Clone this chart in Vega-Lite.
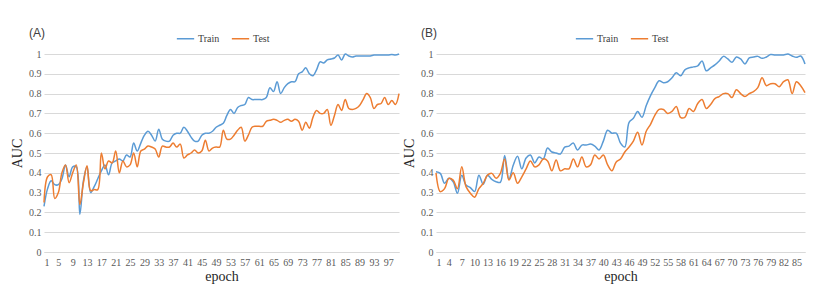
{
  "$schema": "https://vega.github.io/schema/vega-lite/v6.json",
  "padding": {"left": 10, "top": 27, "right": 5, "bottom": 5},
  "background": "white",
  "datasets": {
    "A": [
      {"epoch":1,"Train":0.23,"Test":0.25},{"epoch":2,"Train":0.32,"Test":0.38},{"epoch":3,"Train":0.36,"Test":0.39},{"epoch":4,"Train":0.34,"Test":0.27},{"epoch":5,"Train":0.34,"Test":0.30},
      {"epoch":6,"Train":0.37,"Test":0.40},{"epoch":7,"Train":0.44,"Test":0.44},{"epoch":8,"Train":0.38,"Test":0.35},{"epoch":9,"Train":0.43,"Test":0.40},{"epoch":10,"Train":0.43,"Test":0.44},
      {"epoch":11,"Train":0.19,"Test":0.24},{"epoch":12,"Train":0.36,"Test":0.35},{"epoch":13,"Train":0.43,"Test":0.435},{"epoch":14,"Train":0.30,"Test":0.31},{"epoch":15,"Train":0.33,"Test":0.315},
      {"epoch":16,"Train":0.37,"Test":0.315},{"epoch":17,"Train":0.41,"Test":0.50},{"epoch":18,"Train":0.44,"Test":0.42},{"epoch":19,"Train":0.39,"Test":0.46},{"epoch":20,"Train":0.45,"Test":0.45},
      {"epoch":21,"Train":0.46,"Test":0.51},{"epoch":22,"Train":0.47,"Test":0.40},{"epoch":23,"Train":0.46,"Test":0.46},{"epoch":24,"Train":0.49,"Test":0.43},{"epoch":25,"Train":0.48,"Test":0.44},
      {"epoch":26,"Train":0.55,"Test":0.50},{"epoch":27,"Train":0.51,"Test":0.43},{"epoch":28,"Train":0.55,"Test":0.51},{"epoch":29,"Train":0.59,"Test":0.52},{"epoch":30,"Train":0.61,"Test":0.535},
      {"epoch":31,"Train":0.59,"Test":0.53},{"epoch":32,"Train":0.56,"Test":0.52},{"epoch":33,"Train":0.62,"Test":0.48},{"epoch":34,"Train":0.57,"Test":0.535},{"epoch":35,"Train":0.56,"Test":0.53},
      {"epoch":36,"Train":0.56,"Test":0.53},{"epoch":37,"Train":0.59,"Test":0.55},{"epoch":38,"Train":0.60,"Test":0.53},{"epoch":39,"Train":0.60,"Test":0.545},{"epoch":40,"Train":0.63,"Test":0.475},
      {"epoch":41,"Train":0.61,"Test":0.49},{"epoch":42,"Train":0.58,"Test":0.50},{"epoch":43,"Train":0.56,"Test":0.515},{"epoch":44,"Train":0.56,"Test":0.50},{"epoch":45,"Train":0.59,"Test":0.51},
      {"epoch":46,"Train":0.60,"Test":0.565},{"epoch":47,"Train":0.60,"Test":0.51},{"epoch":48,"Train":0.61,"Test":0.525},{"epoch":49,"Train":0.63,"Test":0.53},{"epoch":50,"Train":0.64,"Test":0.53},
      {"epoch":51,"Train":0.65,"Test":0.615},{"epoch":52,"Train":0.69,"Test":0.57},{"epoch":53,"Train":0.72,"Test":0.57},{"epoch":54,"Train":0.70,"Test":0.59},{"epoch":55,"Train":0.73,"Test":0.615},
      {"epoch":56,"Train":0.74,"Test":0.63},{"epoch":57,"Train":0.745,"Test":0.56},{"epoch":58,"Train":0.78,"Test":0.59},{"epoch":59,"Train":0.77,"Test":0.63},{"epoch":60,"Train":0.77,"Test":0.635},
      {"epoch":61,"Train":0.77,"Test":0.635},{"epoch":62,"Train":0.77,"Test":0.635},{"epoch":63,"Train":0.78,"Test":0.66},{"epoch":64,"Train":0.83,"Test":0.665},{"epoch":65,"Train":0.81,"Test":0.67},
      {"epoch":66,"Train":0.86,"Test":0.665},{"epoch":67,"Train":0.80,"Test":0.655},{"epoch":68,"Train":0.83,"Test":0.665},{"epoch":69,"Train":0.85,"Test":0.67},{"epoch":70,"Train":0.86,"Test":0.66},
      {"epoch":71,"Train":0.86,"Test":0.67},{"epoch":72,"Train":0.90,"Test":0.66},{"epoch":73,"Train":0.91,"Test":0.615},{"epoch":74,"Train":0.93,"Test":0.655},{"epoch":75,"Train":0.90,"Test":0.625},
      {"epoch":76,"Train":0.89,"Test":0.68},{"epoch":77,"Train":0.92,"Test":0.715},{"epoch":78,"Train":0.96,"Test":0.70},{"epoch":79,"Train":0.955,"Test":0.70},{"epoch":80,"Train":0.97,"Test":0.72},
      {"epoch":81,"Train":0.975,"Test":0.64},{"epoch":82,"Train":0.98,"Test":0.69},{"epoch":83,"Train":0.995,"Test":0.745},{"epoch":84,"Train":0.97,"Test":0.715},{"epoch":85,"Train":1.0,"Test":0.77},
      {"epoch":86,"Train":0.99,"Test":0.725},{"epoch":87,"Train":0.985,"Test":0.72},{"epoch":88,"Train":0.99,"Test":0.725},{"epoch":89,"Train":0.99,"Test":0.74},{"epoch":90,"Train":0.99,"Test":0.77},
      {"epoch":91,"Train":0.99,"Test":0.80},{"epoch":92,"Train":0.99,"Test":0.78},{"epoch":93,"Train":0.995,"Test":0.725},{"epoch":94,"Train":0.995,"Test":0.745},{"epoch":95,"Train":0.995,"Test":0.75},
      {"epoch":96,"Train":0.995,"Test":0.78},{"epoch":97,"Train":0.995,"Test":0.745},{"epoch":98,"Train":0.998,"Test":0.765},{"epoch":99,"Train":0.995,"Test":0.745},{"epoch":100,"Train":1.0,"Test":0.80}
    ],
    "B": [
      {"epoch":1,"Train":0.405,"Test":0.40},{"epoch":2,"Train":0.397,"Test":0.305},{"epoch":3,"Train":0.347,"Test":0.32},{"epoch":4,"Train":0.372,"Test":0.372},{"epoch":5,"Train":0.355,"Test":0.363},
      {"epoch":6,"Train":0.297,"Test":0.32},{"epoch":7,"Train":0.388,"Test":0.43},{"epoch":8,"Train":0.338,"Test":0.33},{"epoch":9,"Train":0.325,"Test":0.297},{"epoch":10,"Train":0.305,"Test":0.277},
      {"epoch":11,"Train":0.388,"Test":0.32},{"epoch":12,"Train":0.342,"Test":0.347},{"epoch":13,"Train":0.388,"Test":0.388},{"epoch":14,"Train":0.367,"Test":0.397},{"epoch":15,"Train":0.355,"Test":0.372},
      {"epoch":16,"Train":0.352,"Test":0.397},{"epoch":17,"Train":0.488,"Test":0.47},{"epoch":18,"Train":0.367,"Test":0.363},{"epoch":19,"Train":0.438,"Test":0.40},{"epoch":20,"Train":0.483,"Test":0.347},
      {"epoch":21,"Train":0.42,"Test":0.38},{"epoch":22,"Train":0.475,"Test":0.42},{"epoch":23,"Train":0.49,"Test":0.46},{"epoch":24,"Train":0.45,"Test":0.43},{"epoch":25,"Train":0.48,"Test":0.44},
      {"epoch":26,"Train":0.47,"Test":0.47},{"epoch":27,"Train":0.525,"Test":0.46},{"epoch":28,"Train":0.505,"Test":0.41},{"epoch":29,"Train":0.50,"Test":0.465},{"epoch":30,"Train":0.495,"Test":0.41},
      {"epoch":31,"Train":0.53,"Test":0.42},{"epoch":32,"Train":0.535,"Test":0.42},{"epoch":33,"Train":0.55,"Test":0.47},{"epoch":34,"Train":0.515,"Test":0.43},{"epoch":35,"Train":0.54,"Test":0.48},
      {"epoch":36,"Train":0.54,"Test":0.43},{"epoch":37,"Train":0.545,"Test":0.44},{"epoch":38,"Train":0.535,"Test":0.49},{"epoch":39,"Train":0.515,"Test":0.47},{"epoch":40,"Train":0.56,"Test":0.49},
      {"epoch":41,"Train":0.615,"Test":0.44},{"epoch":42,"Train":0.60,"Test":0.41},{"epoch":43,"Train":0.60,"Test":0.455},{"epoch":44,"Train":0.55,"Test":0.47},{"epoch":45,"Train":0.53,"Test":0.505},
      {"epoch":46,"Train":0.655,"Test":0.53},{"epoch":47,"Train":0.675,"Test":0.56},{"epoch":48,"Train":0.71,"Test":0.605},{"epoch":49,"Train":0.68,"Test":0.54},{"epoch":50,"Train":0.74,"Test":0.61},
      {"epoch":51,"Train":0.79,"Test":0.645},{"epoch":52,"Train":0.83,"Test":0.69},{"epoch":53,"Train":0.865,"Test":0.72},{"epoch":54,"Train":0.855,"Test":0.72},{"epoch":55,"Train":0.86,"Test":0.70},
      {"epoch":56,"Train":0.88,"Test":0.71},{"epoch":57,"Train":0.905,"Test":0.735},{"epoch":58,"Train":0.89,"Test":0.68},{"epoch":59,"Train":0.92,"Test":0.68},{"epoch":60,"Train":0.93,"Test":0.725},
      {"epoch":61,"Train":0.935,"Test":0.71},{"epoch":62,"Train":0.94,"Test":0.75},{"epoch":63,"Train":0.965,"Test":0.77},{"epoch":64,"Train":0.915,"Test":0.725},{"epoch":65,"Train":0.93,"Test":0.745},
      {"epoch":66,"Train":0.945,"Test":0.775},{"epoch":67,"Train":0.965,"Test":0.785},{"epoch":68,"Train":0.988,"Test":0.80},{"epoch":69,"Train":0.975,"Test":0.80},{"epoch":70,"Train":0.958,"Test":0.78},
      {"epoch":71,"Train":0.985,"Test":0.82},{"epoch":72,"Train":0.975,"Test":0.80},{"epoch":73,"Train":0.95,"Test":0.785},{"epoch":74,"Train":0.98,"Test":0.80},{"epoch":75,"Train":0.985,"Test":0.81},
      {"epoch":76,"Train":0.988,"Test":0.83},{"epoch":77,"Train":0.978,"Test":0.88},{"epoch":78,"Train":0.985,"Test":0.84},{"epoch":79,"Train":0.997,"Test":0.85},{"epoch":80,"Train":0.995,"Test":0.85},
      {"epoch":81,"Train":0.995,"Test":0.835},{"epoch":82,"Train":0.995,"Test":0.86},{"epoch":83,"Train":1.0,"Test":0.87},{"epoch":84,"Train":0.99,"Test":0.80},{"epoch":85,"Train":0.983,"Test":0.86},
      {"epoch":86,"Train":0.99,"Test":0.84},{"epoch":87,"Train":0.95,"Test":0.805}
    ]
  },
  "hconcat": [
    {
      "width": 355,
      "height": 198,
      "data": {"name": "A"},
      "transform": [{"fold": ["Train", "Test"], "as": ["series", "auc"]}],
      "title": {"text": "(A)", "anchor": "start", "frame": "group", "dx": -15, "offset": -11},
      "mark": {"type": "line", "interpolate": "catmull-rom", "strokeWidth": 1.5},
      "encoding": {
        "x": {"field": "epoch", "type": "quantitative", "scale": {"domain": [1, 100], "nice": false, "zero": false},
              "axis": {"values": [1,5,9,13,17,21,25,29,33,37,41,45,49,53,57,61,65,69,73,77,81,85,89,93,97], "title": "epoch", "grid": false, "labelOverlap": false}},
        "y": {"field": "auc", "type": "quantitative", "scale": {"domain": [0, 1], "nice": false},
              "axis": {"values": [0,0.1,0.2,0.3,0.4,0.5,0.6,0.7,0.8,0.9,1], "format": "~g", "title": "AUC"}},
        "color": {"field": "series", "type": "nominal", "sort": ["Train", "Test"],
                  "scale": {"domain": ["Train", "Test"], "range": ["#5B9BD5", "#ED7D31"]},
                  "legend": {"orient": "none", "legendX": 132, "legendY": -25, "direction": "horizontal", "title": null}}
      }
    },
    {
      "width": 369,
      "height": 198,
      "data": {"name": "B"},
      "transform": [{"fold": ["Train", "Test"], "as": ["series", "auc"]}],
      "title": {"text": "(B)", "anchor": "start", "frame": "group", "dx": -15, "offset": -11},
      "mark": {"type": "line", "interpolate": "catmull-rom", "strokeWidth": 1.5},
      "encoding": {
        "x": {"field": "epoch", "type": "quantitative", "scale": {"domain": [1, 87], "nice": false, "zero": false},
              "axis": {"values": [1,4,7,10,13,16,19,22,25,28,31,34,37,40,43,46,49,52,55,58,61,64,67,70,73,76,79,82,85], "title": "epoch", "grid": false, "labelOverlap": false}},
        "y": {"field": "auc", "type": "quantitative", "scale": {"domain": [0, 1], "nice": false},
              "axis": {"values": [0,0.1,0.2,0.3,0.4,0.5,0.6,0.7,0.8,0.9,1], "format": "~g", "title": "AUC"}},
        "color": {"field": "series", "type": "nominal", "sort": ["Train", "Test"],
                  "scale": {"domain": ["Train", "Test"], "range": ["#5B9BD5", "#ED7D31"]},
                  "legend": {"orient": "none", "legendX": 139, "legendY": -25, "direction": "horizontal", "title": null}}
      }
    }
  ],
  "spacing": 0,
  "resolve": {"legend": {"color": "independent"}},
  "config": {
    "view": {"stroke": null},
    "title": {"font": "Liberation Sans", "fontSize": 12, "fontWeight": "normal", "color": "#404040"},
    "axis": {"labelFont": "Liberation Serif", "labelFontSize": 10, "labelColor": "#595959", "titleFont": "Liberation Serif", "titleFontSize": 14, "titleFontWeight": "normal", "titleColor": "#262626", "ticks": false, "domain": false, "gridColor": "#d9d9d9", "labelPadding": 5},
    "axisX": {"domain": true, "domainColor": "#d9d9d9", "titlePadding": 2},
    "axisY": {"titlePadding": 4, "labelPadding": 3},
    "legend": {"labelFont": "Liberation Serif", "labelFontSize": 10, "labelColor": "#404040", "symbolType": "stroke", "symbolSize": 300, "symbolStrokeWidth": 1.5, "columnPadding": 8, "labelOffset": 3}
  }
}
